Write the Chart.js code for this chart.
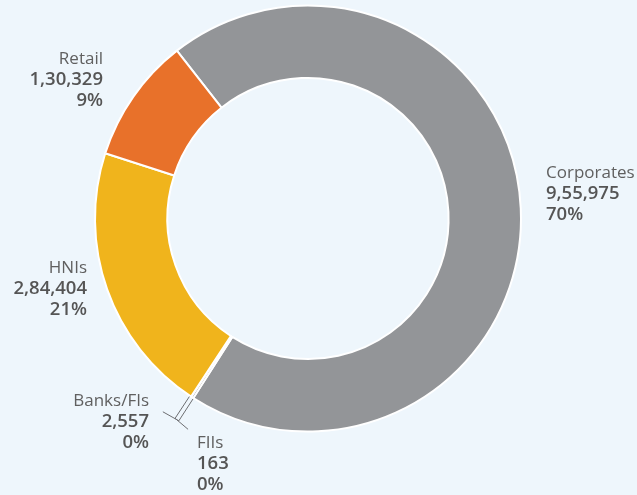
<!DOCTYPE html>
<html>
<head>
<meta charset="utf-8">
<script src="https://cdn.jsdelivr.net/npm/chart.js@4"></script>
<style>
  html, body { margin: 0; padding: 0; background: #eef6fc; }
  #wrap { width: 637px; height: 495px; }
</style>
</head>
<body>
<div id="wrap"><canvas id="grafico"></canvas></div>
<script>
// dati del grafico
const categorie = ['Corporates', 'Banks/FIs', 'FIIs', 'HNIs', 'Retail'];
const valori = [955975, 2557, 163, 284404, 130329];
const percentuali = ['70%', '0%', '0%', '21%', '9%'];
const colori = ['#939598', '#939598', '#939598', '#f0b41c', '#e8712a'];

// posizione delle etichette (x, y della prima riga, allineamento)
const posEtichette = [
    { x: 546, y: 173, align: 'left' },
    { x: 149, y: 401, align: 'right' },
    { x: 197, y: 443, align: 'left' },
    { x: 87, y: 268, align: 'right' },
    { x: 103, y: 59, align: 'right' }
];

const formatoIN = v => v.toLocaleString('en-IN');

const etichette = {
    id: 'etichette',
    afterDraw(chart) {
        const ctx = chart.ctx;
        const arcs = chart.getDatasetMeta(0).data;
        ctx.save();

        // linee guida per i segmenti piccoli
        ctx.strokeStyle = '#6d6e71';
        ctx.lineWidth = 1;
        [[1, -16, -9], [2, 13, 11]].forEach(([i, dx, dy]) => {
            const a = arcs[i];
            const ang = (a.startAngle + a.endAngle) / 2;
            const r0 = a.outerRadius + 1, r1 = a.outerRadius + 27;
            const off = i === 1 ? -1.5 : 1.5;
            const nx = -Math.sin(ang) * off, ny = Math.cos(ang) * off;
            const x1 = a.x + Math.cos(ang) * r1 + nx, y1 = a.y + Math.sin(ang) * r1 + ny;
            ctx.beginPath();
            ctx.moveTo(a.x + Math.cos(ang) * r0 + nx, a.y + Math.sin(ang) * r0 + ny);
            ctx.lineTo(x1, y1);
            ctx.lineTo(x1 + dx, y1 + dy);
            ctx.stroke();
        });

        ctx.textBaseline = 'middle';
        categorie.forEach((c, i) => {
            const p = posEtichette[i];
            ctx.textAlign = p.align;
            ctx.fillStyle = '#606060';
            ctx.font = '400 17px "Open Sans", sans-serif';
            ctx.fillText(c, p.x, p.y);
            ctx.fillStyle = '#555555';
            ctx.font = '600 18.5px "Open Sans", sans-serif';
            ctx.fillText(formatoIN(valori[i]), p.x, p.y + 21);
            ctx.fillText(percentuali[i], p.x, p.y + 42);
        });
        ctx.restore();
    }
};

new Chart(document.getElementById('grafico'), {
    type: 'doughnut',
    data: {
        labels: categorie,
        datasets: [{
            data: valori,
            backgroundColor: colori,
            borderColor: '#ffffff',
            borderWidth: 2
        }]
    },
    options: {
        responsive: true,
        maintainAspectRatio: false,
        animation: false,
        cutout: '66%',
        rotation: -38,
        layout: { padding: { left: 94, right: 115, top: 4, bottom: 62 } },
        plugins: {
            legend: { display: false },
            tooltip: { enabled: false }
        }
    },
    plugins: [etichette]
});
</script>
</body>
</html>
